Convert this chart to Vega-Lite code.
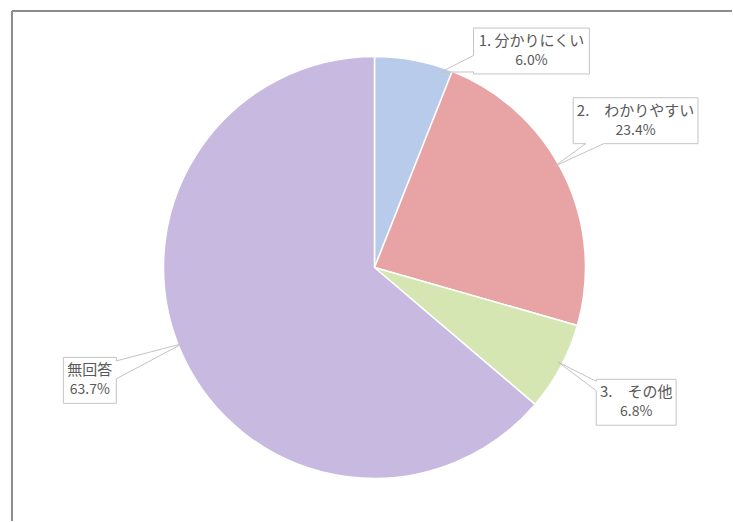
{
  "$schema": "https://vega.github.io/schema/vega-lite/v6.json",
  "width": 733,
  "height": 522,
  "autosize": {"type": "fit", "contains": "padding"},
  "padding": 0,
  "background": "white",
  "config": {"view": {"stroke": null}, "font": "Noto Sans CJK JP"},
  "datasets": {
    "slices": [
      {"item": "1. 分かりにくい", "pct": 6.0},
      {"item": "2.　わかりやすい", "pct": 23.4},
      {"item": "3.　その他", "pct": 6.8},
      {"item": "無回答", "pct": 63.7}
    ],
    "callouts": [
      {"item": "1. 分かりにくい", "lx": 0.745, "ly": 1.028},
      {"item": "2.　わかりやすい", "lx": 1.239, "ly": 0.697},
      {"item": "3.　その他", "lx": 1.242, "ly": -0.640},
      {"item": "無回答", "lx": -1.351, "ly": -0.536}
    ]
  },
  "data": {"name": "slices"},
  "layer": [
    {
      "data": {"values": [{}]},
      "mark": {"type": "rule", "color": "#8c8c8c", "strokeWidth": 2},
      "encoding": {
        "x": {"datum": -1.7204, "type": "quantitative", "scale": {"domain": [-1.77725, 1.69668], "nice": false, "zero": false}, "axis": null},
        "y": {"datum": 1.2180, "type": "quantitative", "scale": {"domain": [-1.20379, 1.27014], "nice": false, "zero": false}, "axis": null},
        "y2": {"datum": -1.20379}
      }
    },
    {
      "data": {"values": [{}]},
      "mark": {"type": "rule", "color": "#8c8c8c", "strokeWidth": 2},
      "encoding": {
        "x": {"datum": -1.7204, "type": "quantitative", "scale": {"domain": [-1.77725, 1.69668], "nice": false, "zero": false}, "axis": null},
        "x2": {"datum": 1.69668},
        "y": {"datum": 1.2180, "type": "quantitative", "scale": {"domain": [-1.20379, 1.27014], "nice": false, "zero": false}, "axis": null}
      }
    },
    {
      "mark": {"type": "arc", "outerRadius": 211, "stroke": "white", "strokeWidth": 1.5},
      "encoding": {
        "theta": {"field": "pct", "type": "quantitative", "stack": true},
        "order": {"field": "item", "sort": "ascending"},
        "color": {
          "field": "item",
          "type": "nominal",
          "scale": {
            "domain": ["1. 分かりにくい", "2.　わかりやすい", "3.　その他", "無回答"],
            "range": ["#b8cbeb", "#e8a4a4", "#d6e6b2", "#c7b9e0"]
          },
          "legend": null
        },
        "x": {"datum": 0, "type": "quantitative", "scale": {"domain": [-1.77725, 1.69668], "nice": false, "zero": false}, "axis": null},
        "y": {"datum": 0, "type": "quantitative", "scale": {"domain": [-1.20379, 1.27014], "nice": false, "zero": false}, "axis": null}
      }
    },
    {
      "transform": [
        {"window": [{"op": "sum", "field": "pct", "as": "cum"}], "sort": [{"field": "item"}], "frame": [null, 0]},
        {"joinaggregate": [{"op": "sum", "field": "pct", "as": "total"}]},
        {"lookup": "item", "from": {"data": {"name": "callouts"}, "key": "item", "fields": ["lx", "ly"]}},
        {"calculate": "format(datum.pct, '.1f') + '%'", "as": "pctLabel"},
        {"calculate": "(datum.cum - datum.pct) / datum.total * 2 * PI", "as": "a0"},
        {"calculate": "datum.cum / datum.total * 2 * PI", "as": "a1"},
        {"calculate": "(atan2(datum.lx, datum.ly) + 2 * PI) % (2 * PI)", "as": "ba"},
        {"calculate": "clamp(datum.ba, datum.a0 + 0.05, datum.a1 - 0.05)", "as": "ta"},
        {"calculate": "0.98 * sin(datum.ta)", "as": "tx"},
        {"calculate": "0.98 * cos(datum.ta)", "as": "ty"},
        {"calculate": "length(replace(datum.item, regexp('[ -~]', 'g'), ''))", "as": "wide"},
        {"calculate": "length(datum.item) - datum.wide", "as": "narrow"},
        {"calculate": "(max(datum.wide * 15 + datum.narrow * 6, 45) + 8) / 2 / 211", "as": "hw"},
        {"calculate": "23 / 211", "as": "hh"},
        {"calculate": "datum.lx - datum.hw", "as": "x0"},
        {"calculate": "datum.lx + datum.hw", "as": "x1"},
        {"calculate": "datum.ly - datum.hh", "as": "y0"},
        {"calculate": "datum.ly + datum.hh", "as": "y1"},
        {"calculate": "datum.tx - datum.lx", "as": "dx"},
        {"calculate": "datum.ty - datum.ly", "as": "dy"},
        {"calculate": "abs(datum.dx) * datum.hh > abs(datum.dy) * datum.hw", "as": "side"},
        {"calculate": "datum.side ? datum.lx + (datum.dx > 0 ? 1 : -1) * datum.hw : datum.lx + datum.dx * datum.hh / abs(datum.dy)", "as": "ex"},
        {"calculate": "datum.side ? datum.ly + datum.dy * datum.hw / abs(datum.dx) : datum.ly + (datum.dy > 0 ? 1 : -1) * datum.hh", "as": "ey"},
        {"calculate": "datum.side ? datum.ex : max(datum.ex - 9 / 211, datum.x0 + 2 / 211)", "as": "b1x"},
        {"calculate": "datum.side ? datum.ex : min(datum.ex + 9 / 211, datum.x1 - 2 / 211)", "as": "b2x"},
        {"calculate": "datum.side ? max(datum.ey - 9 / 211, datum.y0 + 2 / 211) : datum.ey", "as": "b1y"},
        {"calculate": "datum.side ? min(datum.ey + 9 / 211, datum.y1 - 2 / 211) : datum.ey", "as": "b2y"}
      ],
      "layer": [
        {
          "mark": {"type": "rect", "fill": "white", "stroke": "#c4c4c4", "strokeWidth": 1},
          "encoding": {
            "x": {"field": "x0", "type": "quantitative", "scale": {"domain": [-1.77725, 1.69668], "nice": false, "zero": false}, "axis": null},
            "x2": {"field": "x1"},
            "y": {"field": "y0", "type": "quantitative", "scale": {"domain": [-1.20379, 1.27014], "nice": false, "zero": false}, "axis": null},
            "y2": {"field": "y1"}
          }
        },
        {
          "mark": {"type": "rule", "color": "white", "strokeWidth": 2},
          "encoding": {
            "x": {"field": "b1x", "type": "quantitative", "scale": {"domain": [-1.77725, 1.69668], "nice": false, "zero": false}, "axis": null},
            "x2": {"field": "b2x"},
            "y": {"field": "b1y", "type": "quantitative", "scale": {"domain": [-1.20379, 1.27014], "nice": false, "zero": false}, "axis": null},
            "y2": {"field": "b2y"}
          }
        },
        {
          "mark": {"type": "rule", "color": "#c4c4c4", "strokeWidth": 1},
          "encoding": {
            "x": {"field": "b1x", "type": "quantitative", "scale": {"domain": [-1.77725, 1.69668], "nice": false, "zero": false}, "axis": null},
            "x2": {"field": "tx"},
            "y": {"field": "b1y", "type": "quantitative", "scale": {"domain": [-1.20379, 1.27014], "nice": false, "zero": false}, "axis": null},
            "y2": {"field": "ty"}
          }
        },
        {
          "mark": {"type": "rule", "color": "#c4c4c4", "strokeWidth": 1},
          "encoding": {
            "x": {"field": "b2x", "type": "quantitative", "scale": {"domain": [-1.77725, 1.69668], "nice": false, "zero": false}, "axis": null},
            "x2": {"field": "tx"},
            "y": {"field": "b2y", "type": "quantitative", "scale": {"domain": [-1.20379, 1.27014], "nice": false, "zero": false}, "axis": null},
            "y2": {"field": "ty"}
          }
        },
        {
          "mark": {"type": "text", "fontSize": 15, "color": "#595959", "align": "center", "baseline": "middle", "dy": -10},
          "encoding": {
            "x": {"field": "lx", "type": "quantitative", "scale": {"domain": [-1.77725, 1.69668], "nice": false, "zero": false}, "axis": null},
            "y": {"field": "ly", "type": "quantitative", "scale": {"domain": [-1.20379, 1.27014], "nice": false, "zero": false}, "axis": null},
            "text": {"field": "item"}
          }
        },
        {
          "mark": {"type": "text", "fontSize": 14, "color": "#595959", "align": "center", "baseline": "middle", "dy": 10},
          "encoding": {
            "x": {"field": "lx", "type": "quantitative", "scale": {"domain": [-1.77725, 1.69668], "nice": false, "zero": false}, "axis": null},
            "y": {"field": "ly", "type": "quantitative", "scale": {"domain": [-1.20379, 1.27014], "nice": false, "zero": false}, "axis": null},
            "text": {"field": "pctLabel"}
          }
        }
      ]
    }
  ]
}
